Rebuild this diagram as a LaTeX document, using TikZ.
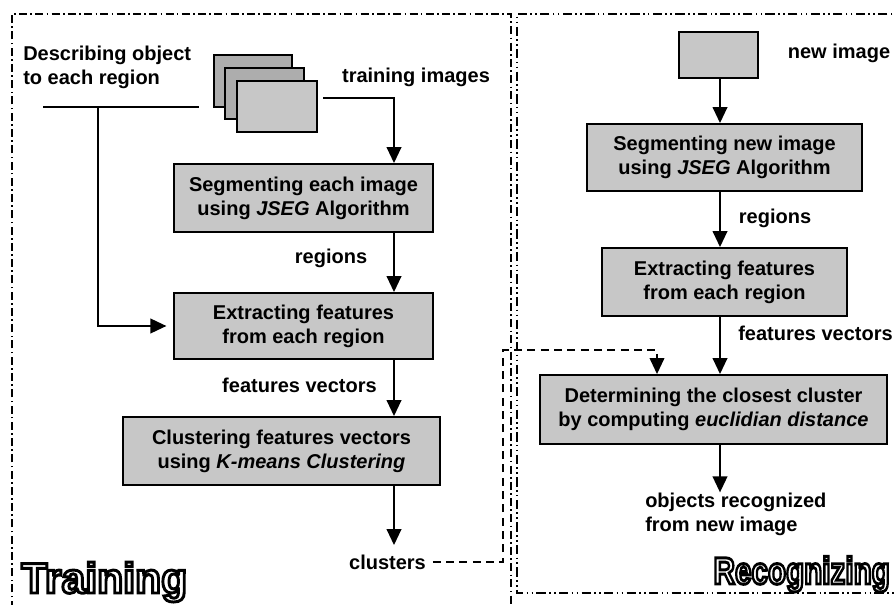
\documentclass[tikz,border=0pt]{standalone}
\usepackage{fontspec}
\setmainfont{Liberation Sans}
\usetikzlibrary{arrows.meta}
\definecolor{boxgray}{gray}{0.78}
\definecolor{stackgray}{gray}{0.68}
\newcommand\outlinetext[1]{\special{pdf:literal direct 1 Tr 2.2 w}#1\special{pdf:literal direct 0 Tr}}
\begin{document}
\begin{tikzpicture}[x=0.75pt,y=-0.75pt,
  procbox/.style={draw, line width=1.4pt, fill=boxgray, align=center, inner sep=0pt,
    font=\fontsize{15}{18}\selectfont\bfseries},
  imgbox/.style={draw, line width=1.5pt, fill=stackgray, inner sep=0pt},
  lbl/.style={inner sep=0pt, font=\fontsize{15}{18}\selectfont\bfseries},
  conn/.style={line width=1.4pt},
  arr/.style={line width=1.4pt, -{Triangle[length=12pt,width=11pt]}},
  dsh/.style={line width=1.2pt, dash pattern=on 6pt off 4pt, -{Triangle[length=12pt,width=11pt]}},
  frameL/.style={line width=1.1pt, dash pattern=on 6pt off 2.5pt on 1.2pt off 2.5pt},
  frameR/.style={line width=1.1pt, dash pattern=on 7pt off 2.5pt on 1.2pt off 2.5pt on 1.2pt off 2.5pt},
  bigtxt/.style={inner sep=0pt, font=\bfseries}
]
\useasboundingbox (0,0) rectangle (895,605);
\clip (0,0) rectangle (895,605);

% frames
\draw[frameL] (12,625) -- (12,14) -- (511,14) -- (511,625);
\draw[frameR] (910,14) -- (517,14) -- (517,593) -- (910,593);

% ---------- Training ----------
\node[lbl, anchor=west, align=left] (desc) at (23,67) {Describing object\\to each region};
\node[imgbox, minimum width=58.5pt, minimum height=39pt] (r1) at (253,81) {};
\node[imgbox, minimum width=59.25pt, minimum height=38.25pt] (r2) at (264.5,93.5) {};
\node[imgbox, fill=boxgray, minimum width=60pt, minimum height=38.25pt] (r3) at (277,106.5) {};
\node[lbl] (trainimg) at (416,77) {training images};

\node[procbox, minimum width=194.25pt, minimum height=51pt] (seg1) at (303.5,198)
  {Segmenting each image\\using \textit{JSEG} Algorithm};
\node[lbl] (reg1) at (331,258) {regions};
\node[procbox, minimum width=194.25pt, minimum height=49.5pt] (ext1) at (303.5,326)
  {Extracting features\\from each region};
\node[lbl] (fv1) at (299.5,385) {features vectors};
\node[procbox, minimum width=237.75pt, minimum height=51pt] (clu) at (281.5,451)
  {Clustering features vectors\\using \textit{K-means Clustering}};
\node[lbl] (clusters) at (387.5,562) {clusters};

\coordinate (ti) at (323,98);
\coordinate (ax) at (394,0);
\coordinate (b1) at (43,107);
\coordinate (b2) at (199,107);
\coordinate (b3) at (98,107);

\draw[arr] (ti) -| (ax |- seg1.north);
\draw[arr] (ax |- seg1.south) -- (ax |- ext1.north);
\draw[arr] (ax |- ext1.south) -- (ax |- clu.north);
\draw[arr, shorten >=7pt] (ax |- clu.south) -- (ax |- clusters.north);
\draw[conn] (b1) -- (b2);
\draw[arr, shorten >=5pt] (b3) |- (ext1.west);

\node[bigtxt, anchor=base west, font=\fontsize{32}{32}\selectfont\bfseries] (trn) at (21,593)
  {\outlinetext{Training}};

% ---------- Recognizing ----------
\node[imgbox, fill=boxgray, minimum width=59.25pt, minimum height=34.5pt] (newimg) at (718.5,55) {};
\node[lbl] (newimglbl) at (839,53) {new image};
\node[procbox, minimum width=206.25pt, minimum height=50.25pt] (seg2) at (724.5,157.5)
  {Segmenting new image\\using \textit{JSEG} Algorithm};
\node[lbl] (reg2) at (775,218) {regions};
\node[procbox, minimum width=183.75pt, minimum height=51pt] (ext2) at (724.5,282)
  {Extracting features\\from each region};
\node[lbl] (fv2) at (815.5,333) {features vectors};
\node[procbox, minimum width=260.25pt, minimum height=51.75pt] (det) at (713.5,409.5)
  {Determining the closest cluster\\by computing \textit{euclidian distance}};
\node[lbl, anchor=west, align=left] (objects) at (645,514) {objects recognized\\from new image};

\coordinate (bx) at (720,0);
\draw[arr] (bx |- newimg.south) -- (bx |- seg2.north);
\draw[arr] (bx |- seg2.south) -- (bx |- ext2.north);
\draw[arr] (bx |- ext2.south) -- (bx |- det.north);
\draw[arr] (bx |- det.south) -- (bx |- objects.north);

\coordinate (d1) at (503,0);
\coordinate (d2) at (657,350);
\draw[dsh, shorten <=5pt] (clusters.east) -- (d1 |- clusters.east) -- (d1 |- d2) -- (d2) -- (d2 |- det.north);

\node[bigtxt, anchor=base east, xscale=0.78, font=\fontsize{28.5}{28.5}\selectfont\bfseries] (rec) at (890,584)
  {\outlinetext{Recognizing}};
\end{tikzpicture}
\end{document}
